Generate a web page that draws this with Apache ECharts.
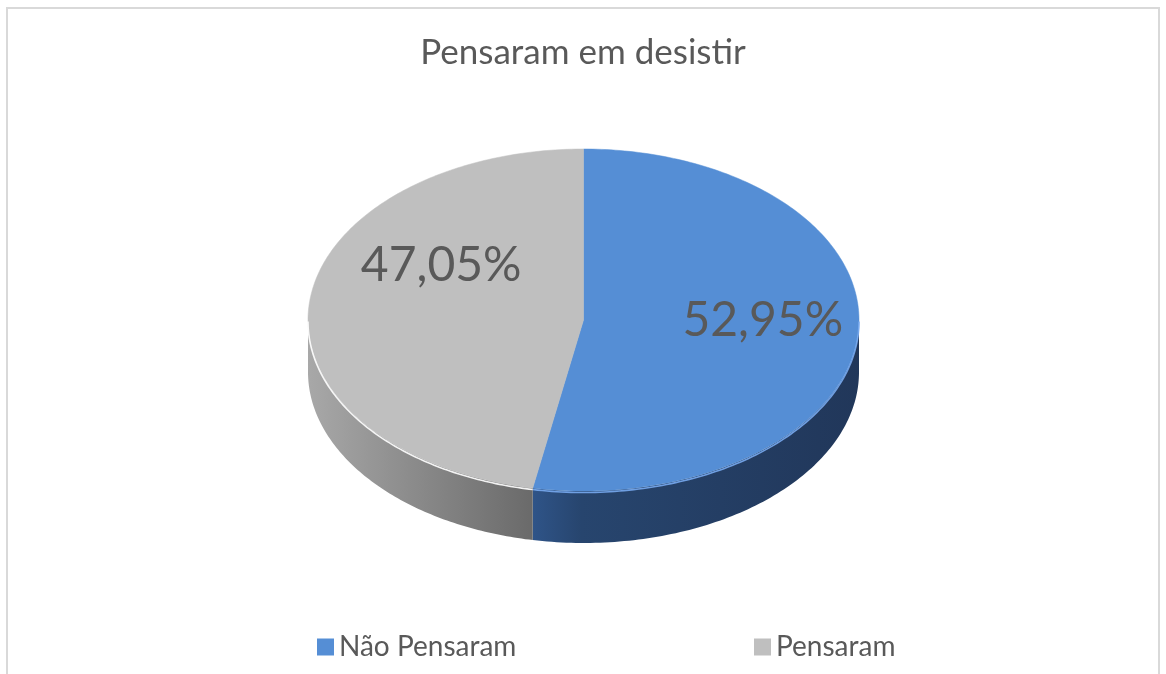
<!DOCTYPE html>
<html><head><meta charset="utf-8">
<script src="https://cdn.jsdelivr.net/npm/echarts@6/dist/echarts.min.js"></script>
<style>html,body{margin:0;padding:0;background:#fff}#chart{width:1166px;height:674px}</style>
</head><body><div id="chart"></div>
<script>
const chartTitle = 'Pensaram em desistir';
const categories = ['Não Pensaram', 'Pensaram'];
const values = [52.95, 47.05];
const labelTexts = ['52,95%', '47,05%'];

// styling / geometry (not data)
const topColors = ['#558ED5', '#BFBFBF'];
const sideStops = [
  [[0, '#2F5488'], [0.15, '#27456E'], [1, '#21375A']],
  [[0, '#A8A8A8'], [1, '#6A6A6A']]
];
const edgeColors = ['rgba(120,170,240,0.9)', 'rgba(255,255,255,0.9)'];
const labelOffsets = [[1, -10], [36, -44]];
const G = { cx: 583.5, cy: 320, rx: 275.5, ry: 171, depth: 52 };
const FONT = 'Lato, "Noto Sans", sans-serif';

const total = values.reduce((a, b) => a + b, 0);

function pt(a, dy) {
  return [G.cx + G.rx * Math.sin(a), G.cy - G.ry * Math.cos(a) + (dy || 0)];
}
function arc(a0, a1, dy, n) {
  const pts = [];
  for (let s = 0; s <= n; s++) pts.push(pt(a0 + (a1 - a0) * s / n, dy));
  return pts;
}

function makeRender(i) {
  return function (params, api) {
    let start = 0;
    for (let k = 0; k < i; k++) start += values[k];
    const v = api.value(0);
    const a0 = start / total * 2 * Math.PI;
    const a1 = (start + v) / total * 2 * Math.PI;
    const children = [];
    const s0 = Math.max(a0, Math.PI / 2), s1 = Math.min(a1, 3 * Math.PI / 2);
    if (s1 > s0) {
      const topEdge = arc(s0, s1, 0, 100);
      const botEdge = arc(s1, s0, G.depth, 100);
      const xs = topEdge.map(p => p[0]);
      const xmin = Math.min.apply(null, xs), xmax = Math.max.apply(null, xs);
      children.push({
        type: 'polygon',
        shape: { points: topEdge.concat(botEdge) },
        style: {
          fill: {
            type: 'linear', x: xmin, y: 0, x2: xmax, y2: 0, global: true,
            colorStops: sideStops[i].map(s => ({ offset: s[0], color: s[1] }))
          },
          stroke: null
        }
      });
    }
    const topPts = [[G.cx, G.cy]].concat(arc(a0, a1, 0, 200));
    children.push({
      type: 'polygon',
      shape: { points: topPts },
      style: { fill: topColors[i], stroke: topColors[i], lineWidth: 0.5 }
    });
    if (s1 > s0) {
      children.push({
        type: 'polyline',
        shape: { points: arc(s0, s1, 1.5, 100) },
        style: { stroke: edgeColors[i], lineWidth: 1.6, fill: null }
      });
    }
    const mid = (a0 + a1) / 2;
    const lp = [G.cx + 0.65 * G.rx * Math.sin(mid), G.cy - 0.65 * G.ry * Math.cos(mid)];
    children.push({
      type: 'text',
      x: lp[0] + labelOffsets[i][0],
      y: lp[1] + labelOffsets[i][1],
      style: {
        text: labelTexts[i], fill: '#595959', font: '48px ' + FONT,
        align: 'center', verticalAlign: 'middle'
      }
    });
    return { type: 'group', children: children };
  };
}

const chart = echarts.init(document.getElementById('chart'), null, { renderer: 'canvas' });
chart.setOption({
  animation: false,
  backgroundColor: '#fff',
  title: {
    text: chartTitle, left: 'center', top: 30,
    textStyle: { fontFamily: FONT, fontSize: 35, fontWeight: 'normal', color: '#595959' }
  },
  legend: categories.map((c, i) => ({
    data: [c], left: i === 0 ? 312 : 749, top: 628, icon: 'rect',
    itemWidth: 17, itemHeight: 17, itemGap: 5,
    textStyle: { fontFamily: FONT, fontSize: 28, color: '#595959' }
  })),
  graphic: [{
    type: 'rect', z: -1, silent: true,
    shape: { x: 7, y: 8, width: 1152, height: 700 },
    style: { fill: null, stroke: '#D9D9D9', lineWidth: 2 }
  }],
  series: categories.map((c, i) => ({
    type: 'custom', name: c, coordinateSystem: 'none',
    itemStyle: { color: topColors[i] },
    data: [[values[i]]],
    renderItem: makeRender(i)
  }))
});
</script></body></html>
